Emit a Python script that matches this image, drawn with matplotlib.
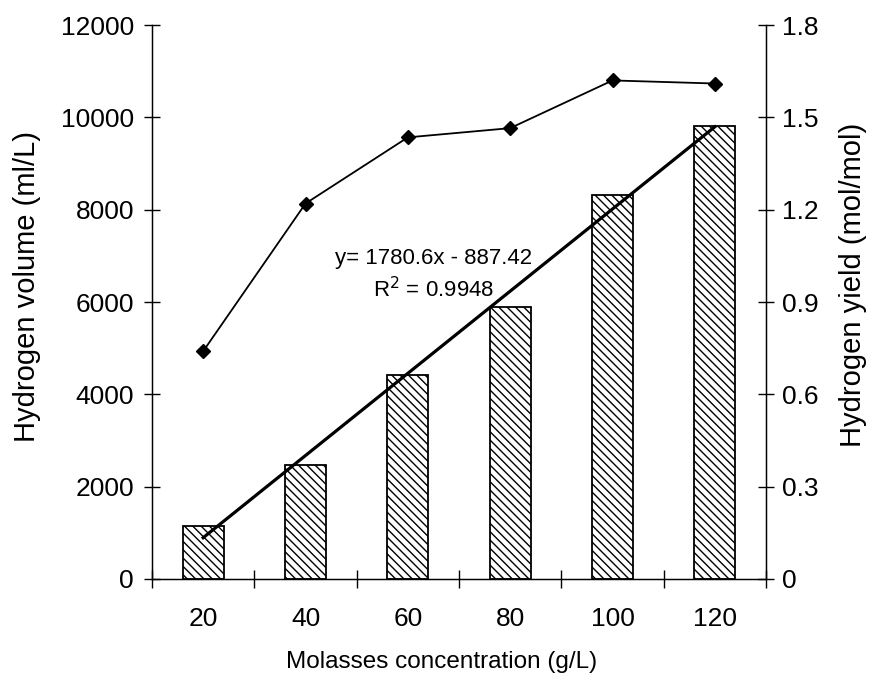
import numpy as np
import matplotlib
matplotlib.use("Agg")
import matplotlib.pyplot as plt

plt.rcParams['font.family'] = ['Liberation Sans', 'DejaVu Sans']
plt.rcParams['hatch.linewidth'] = 1.0

categories = ["20", "40", "60", "80", "100", "120"]
hydrogen_volume = [1150, 2480, 4410, 5900, 8320, 9810]
hydrogen_yield = [0.74, 1.22, 1.435, 1.465, 1.62, 1.61]
eq_text = "y= 1780.6x - 887.42"
r2_text = "R$^2$ = 0.9948"

W, H = 871, 686
fig = plt.figure(figsize=(W / 100, H / 100), dpi=100)
ax = fig.add_axes([0.1745, 0.156, 0.705, 0.8075])
x = np.arange(len(categories))

ax.bar(x, hydrogen_volume, width=0.4, facecolor='white', edgecolor='black',
       linewidth=1.3, hatch='\\\\\\\\', zorder=2)

# linear trendline over category index 1..n
coef = np.polyfit(x + 1, hydrogen_volume, 1)
tx = np.array([x[0], x[-1]])
ax.plot(tx, np.polyval(coef, tx + 1), color='black', lw=2.3, zorder=3)

ax.set_xlim(-0.5, len(categories) - 0.5)
ax.set_ylim(0, 12000)
ax.set_yticks(np.arange(0, 12001, 2000))
ax.set_xticks(x)
ax.set_xticklabels(categories)
ax.set_xticks(np.arange(-0.5, len(categories), 1.0), minor=True)
ax.tick_params(axis='x', which='major', length=0, pad=20, labelsize=19)
ax.tick_params(axis='x', which='minor', direction='inout', length=13, width=1)
ax.tick_params(axis='y', direction='inout', length=12, width=1, labelsize=19, pad=7)
ax.spines['top'].set_visible(False)
for s in ['left', 'right', 'bottom']:
    ax.spines[s].set_linewidth(1.0)

ax2 = ax.twinx()
ax2.plot(x, hydrogen_yield, color='black', lw=1.3, marker='D', markersize=7.5,
         zorder=4)
ax2.set_ylim(0, 1.8)
ax2.set_yticks([0, 0.3, 0.6, 0.9, 1.2, 1.5, 1.8])
ax2.set_yticklabels(["0", "0.3", "0.6", "0.9", "1.2", "1.5", "1.8"])
ax2.tick_params(axis='y', direction='inout', length=12, width=1, labelsize=19, pad=5.5)
ax2.spines['top'].set_visible(False)

fig.text(442 / W, 1 - 662 / H, "Molasses concentration (g/L)", fontsize=17.5,
         ha='center', va='center')
fig.text(27 / W, 1 - 287 / H, "Hydrogen volume (ml/L)", fontsize=21,
         rotation=90, ha='center', va='center')
fig.text(853 / W, 1 - 285 / H, "Hydrogen yield (mol/mol)", fontsize=21,
         rotation=90, ha='center', va='center')

ax.text(0.458, 0.579, eq_text, transform=ax.transAxes, ha='center', va='center', fontsize=16)
ax.text(0.458, 0.522, r2_text, transform=ax.transAxes, ha='center', va='center', fontsize=16)

fig.savefig("out.png", dpi=100)
